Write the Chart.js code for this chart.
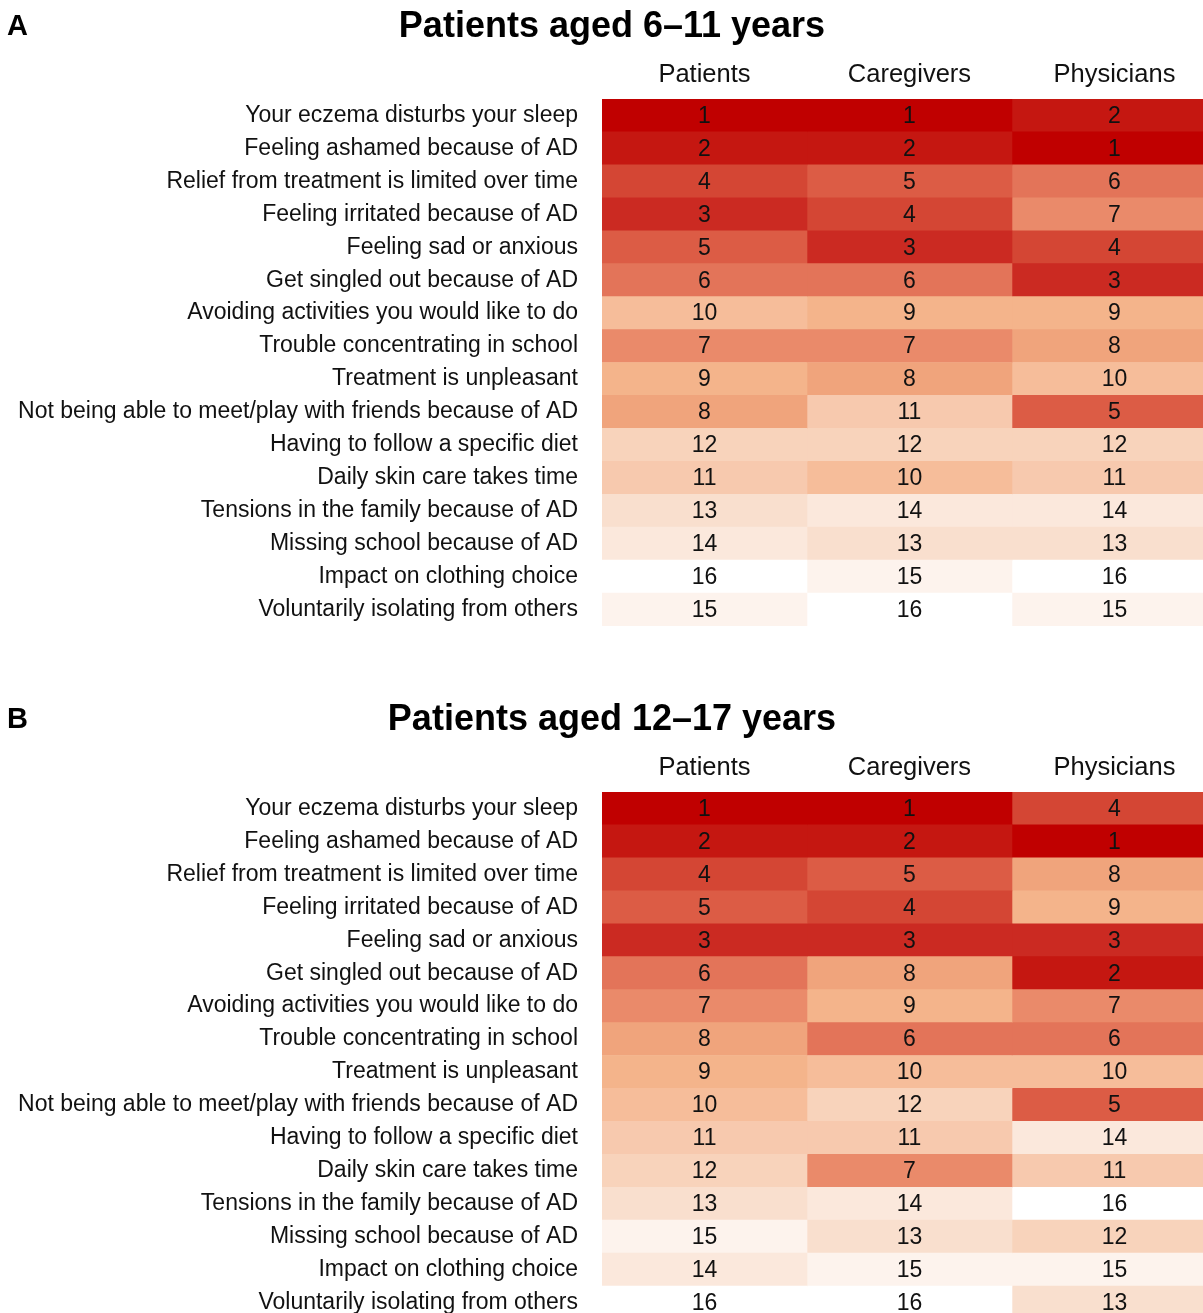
<!DOCTYPE html>
<html>
<head>
<meta charset="utf-8">
<script src="https://cdn.jsdelivr.net/npm/chart.js@4"></script>
<style>
  html, body { margin: 0; padding: 0; background: #fff; overflow: hidden; }
  body { width: 1203px; height: 1313px; position: relative; font-family: "Liberation Sans", Arial, sans-serif; }
  .panel { position: absolute; left: 0; width: 1203px; height: 693px; }
  .letter { position: absolute; left: 7px; top: 10px; font-size: 29px; font-weight: bold; line-height: 30px; }
  .title { position: absolute; left: 0; width: 1224px; top: 5px; text-align: center; font-size: 36px; font-weight: bold; line-height: 40px; }
  canvas { position: absolute; left: 0; top: 0; }
</style>
</head>
<body>
<div class="panel" style="top:0">
  <canvas id="chartA" width="1203" height="693"></canvas>
  <div class="letter">A</div>
  <div class="title">Patients aged 6–11 years</div>
</div>
<div class="panel" style="top:693px">
  <canvas id="chartB" width="1203" height="693"></canvas>
  <div class="letter">B</div>
  <div class="title">Patients aged 12–17 years</div>
</div>
<script>
// Row and column labels
const items = [
    'Your eczema disturbs your sleep',
    'Feeling ashamed because of AD',
    'Relief from treatment is limited over time',
    'Feeling irritated because of AD',
    'Feeling sad or anxious',
    'Get singled out because of AD',
    'Avoiding activities you would like to do',
    'Trouble concentrating in school',
    'Treatment is unpleasant',
    'Not being able to meet/play with friends because of AD',
    'Having to follow a specific diet',
    'Daily skin care takes time',
    'Tensions in the family because of AD',
    'Missing school because of AD',
    'Impact on clothing choice',
    'Voluntarily isolating from others'
];
const groups = ['Patients', 'Caregivers', 'Physicians'];

// Ranks, patients aged 6-11
const patientsA   = [1, 2, 4, 3, 5, 6, 10, 7, 9, 8, 12, 11, 13, 14, 16, 15];
const caregiversA = [1, 2, 5, 4, 3, 6, 9, 7, 8, 11, 12, 10, 14, 13, 15, 16];
const physiciansA = [2, 1, 6, 7, 4, 3, 9, 8, 10, 5, 12, 11, 14, 13, 16, 15];

// Ranks, patients aged 12-17
const patientsB   = [1, 2, 4, 5, 3, 6, 7, 8, 9, 10, 11, 12, 13, 15, 14, 16];
const caregiversB = [1, 2, 5, 4, 3, 8, 9, 6, 10, 12, 11, 7, 14, 13, 15, 16];
const physiciansB = [4, 1, 8, 9, 3, 2, 7, 6, 10, 5, 14, 11, 16, 12, 15, 13];

// colour for rank 1..16
const rankColors = [
    '#c00000', '#c51711', '#cb2a22', '#d44634', '#dc5c45', '#e37459', '#ea8a6a', '#f0a47c',
    '#f4b48b', '#f6bd9a', '#f7c9ae', '#f8d3bb', '#f9dfce', '#fbe8dc', '#fdf3ed', '#ffffff'
];

const font = '"Liberation Sans", Arial, sans-serif';

// writes the rank in the middle of each cell
const cellText = {
    id: 'cellText',
    afterDatasetsDraw(chart) {
        const ctx = chart.ctx;
        const area = chart.chartArea;
        ctx.save();
        ctx.beginPath();
        ctx.rect(area.left, area.top, area.right - area.left, area.bottom - area.top + 20);
        ctx.clip();
        ctx.font = '23px ' + font;
        ctx.fillStyle = '#111';
        ctx.textAlign = 'center';
        ctx.textBaseline = 'middle';
        chart.data.datasets.forEach((ds, i) => {
            chart.getDatasetMeta(i).data.forEach((bar, j) => {
                ctx.fillText(String(ds.ranks[j]), (bar.x + bar.base) / 2, bar.y + 1);
            });
        });
        ctx.restore();
    }
};

function makeHeatmap(id, series) {
    return new Chart(document.getElementById(id), {
        type: 'bar',
        data: {
            labels: items,
            datasets: series.map((ranks, i) => ({
                label: groups[i],
                data: ranks.map(() => 1),
                ranks: ranks,
                backgroundColor: ranks.map(r => rankColors[r - 1]),
                borderWidth: 0,
                barPercentage: 1,
                categoryPercentage: 1
            }))
        },
        options: {
            indexAxis: 'y',
            responsive: false,
            animation: false,
            layout: { padding: { top: 0, right: 0, bottom: 67, left: 0 } },
            scales: {
                x: {
                    type: 'linear',
                    position: 'top',
                    stacked: true,
                    min: 0,
                    max: 2.932,
                    grid: { display: false, drawTicks: false, tickLength: 0 },
                    border: { display: false },
                    afterBuildTicks: scale => {
                        scale.ticks = [{ value: 0.5 }, { value: 1.5 }, { value: 2.5 }];
                    },
                    afterFit: scale => { scale.height = 99; },
                    ticks: {
                        autoSkip: false,
                        maxRotation: 0,
                        padding: 9,
                        color: '#111',
                        font: { family: font, size: 25.5 },
                        callback: value => groups[Math.floor(value)]
                    }
                },
                y: {
                    stacked: true,
                    grid: { display: false, drawTicks: false, tickLength: 0 },
                    border: { display: false },
                    afterFit: scale => { scale.width = 602; },
                    ticks: {
                        autoSkip: false,
                        padding: 24,
                        color: '#111',
                        font: { family: font, size: 23 }
                    }
                }
            },
            plugins: {
                legend: { display: false },
                tooltip: { enabled: false }
            }
        },
        plugins: [cellText]
    });
}

makeHeatmap('chartA', [patientsA, caregiversA, physiciansA]);
makeHeatmap('chartB', [patientsB, caregiversB, physiciansB]);
</script>
</body>
</html>
